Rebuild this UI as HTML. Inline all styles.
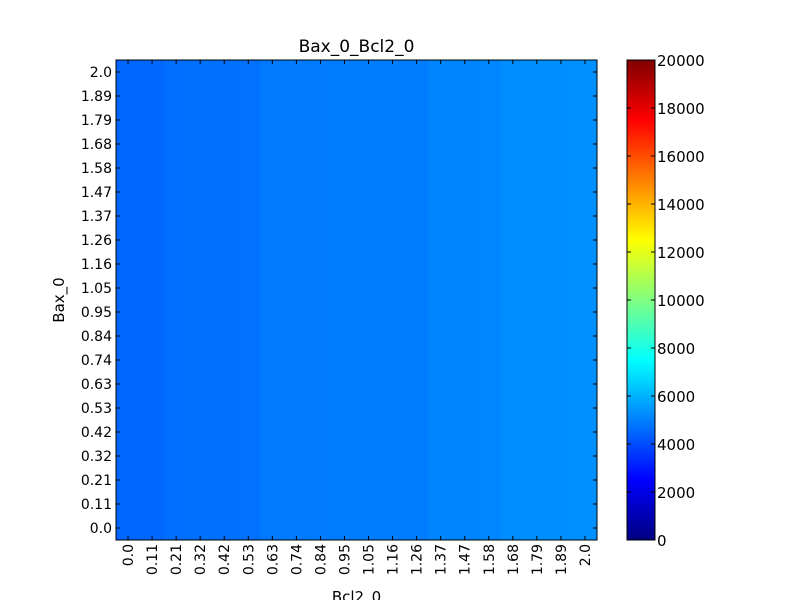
<!DOCTYPE html>
<html><head><meta charset="utf-8"><style>body{margin:0;background:#fff}svg{display:block;font-family:"DejaVu Sans","Liberation Sans",sans-serif}</style></head>
<body>
<svg id="c" width="800" height="600"></svg>
<script>
const xLabels=["0.0","0.11","0.21","0.32","0.42","0.53","0.63","0.74","0.84","0.95","1.05","1.16","1.26","1.37","1.47","1.58","1.68","1.79","1.89","2.0"];
const yLabels=["0.0","0.11","0.21","0.32","0.42","0.53","0.63","0.74","0.84","0.95","1.05","1.16","1.26","1.37","1.47","1.58","1.68","1.79","1.89","2.0"];
const colValues=[4500,4540,4680,4700,4720,4740,4900,4910,4920,4930,4940,4950,4960,5100,5110,5130,5280,5300,5310,5320];
const rowOffsets=[0,0,0,0,0,0,0,0,0,0,0,0,0,0,0,0,0,0,0,0];
const cbTicks=[0,2000,4000,6000,8000,10000,12000,14000,16000,18000,20000];
const vmin=0,vmax=20000;
const L=116,R=597,T=60,B=540,n=20;
const cw=(R-L)/n,ch=(B-T)/n;
const NS="http://www.w3.org/2000/svg";
const svg=document.getElementById('c');
function mk(t,a,p){const e=document.createElementNS(NS,t);for(const k in a)e.setAttribute(k,a[k]);(p||svg).appendChild(e);return e;}
function jet(v){const t=(v-vmin)/(vmax-vmin);const c=x=>Math.max(0,Math.min(1,x));
const r=c(Math.min(4*t-1.5,-4*t+4.5)),g=c(Math.min(4*t-0.5,-4*t+3.5)),b=c(Math.min(4*t+0.5,-4*t+2.5));
return `rgb(${Math.round(r*255)},${Math.round(g*255)},${Math.round(b*255)})`;}
function xs(j){return L+j*cw;}
function ys(i){return B-(i+1)*ch;}
for(let i=0;i<n;i++)for(let j=0;j<n;j++){
const r=mk('rect',{x:xs(j),y:ys(i),width:cw+0.5,height:ch+0.5,fill:jet(colValues[j]+rowOffsets[i])});

}
const fr=mk('rect',{x:L,y:T,width:R-L,height:B-T,fill:'none',stroke:'#000','stroke-width':1});

xLabels.forEach((lab,j)=>{const x=L+(j+0.5)*cw;
mk('line',{x1:x,y1:B,x2:x,y2:B-4,stroke:'#000'});mk('line',{x1:x,y1:T,x2:x,y2:T+4,stroke:'#000'});
const t=mk('text',{x:0,y:0,transform:`translate(${x+5},${B+4}) rotate(-90)`,'text-anchor':'end','font-size':14});t.textContent=lab;
});
yLabels.forEach((lab,i)=>{const y=B-(i+0.5)*ch;
mk('line',{x1:L,y1:y,x2:L+4,y2:y,stroke:'#000'});mk('line',{x1:R,y1:y,x2:R-4,y2:y,stroke:'#000'});
const t=mk('text',{x:L-4,y:y+5,'text-anchor':'end','font-size':14});t.textContent=lab;
});
const ti=mk('text',{x:(L+R)/2,y:52,'text-anchor':'middle','font-size':17});ti.textContent='Bax_0_Bcl2_0';

const xt=mk('text',{x:(L+R)/2,y:602,'text-anchor':'middle','font-size':15});xt.textContent='Bcl2_0';

const yt=mk('text',{x:0,y:0,transform:`translate(64,${(T+B)/2}) rotate(-90)`,'text-anchor':'middle','font-size':15});yt.textContent='Bax_0';

const cL=627,cR=655;
const defs=mk('defs',{});const gr=mk('linearGradient',{id:'g',x1:0,y1:1,x2:0,y2:0},defs);
for(let k=0;k<=8;k++)mk('stop',{offset:k/8,'stop-color':jet(vmin+k/8*(vmax-vmin))},gr);
const cb=mk('rect',{x:cL,y:T,width:cR-cL,height:B-T,fill:'url(#g)',stroke:'#000'});

cbTicks.forEach(v=>{const y=B-(v-vmin)/(vmax-vmin)*(B-T);
mk('line',{x1:cR,y1:y,x2:cR-4,y2:y,stroke:'#000'});mk('line',{x1:cL,y1:y,x2:cL+4,y2:y,stroke:'#000'});
const t=mk('text',{x:cR+2,y:y+6,'font-size':15});t.textContent=v;
});
</script>
</body></html>
